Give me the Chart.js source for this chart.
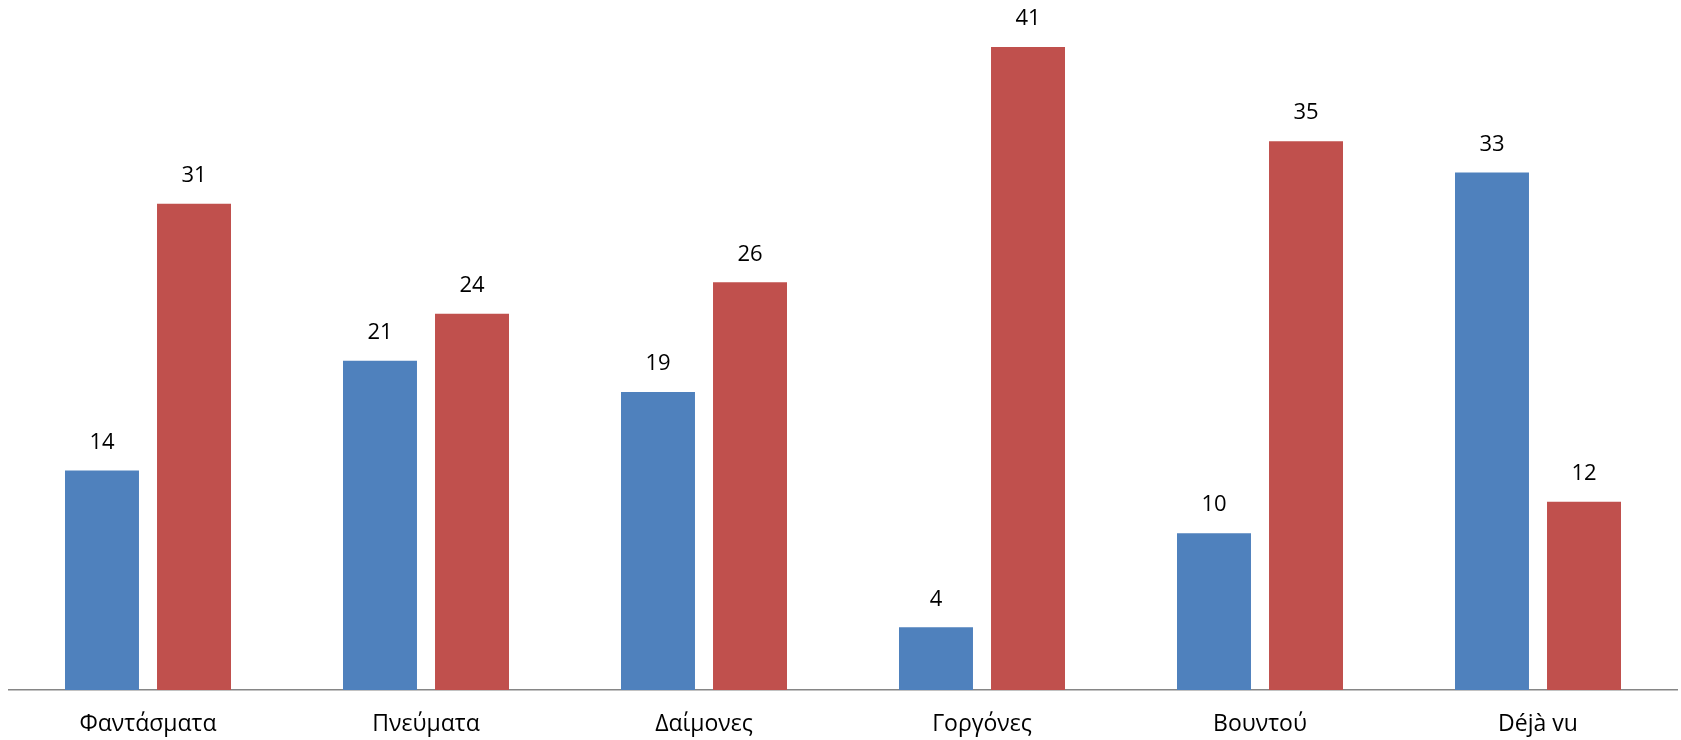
<!DOCTYPE html>
<html>
<head>
<meta charset="utf-8">
<script src="https://cdn.jsdelivr.net/npm/chart.js@4/dist/chart.umd.min.js"></script>
<style>
  html, body { margin: 0; padding: 0; background: #fff; }
  #wrap { width: 1681px; height: 740px; }
</style>
</head>
<body>
<div id="wrap"><canvas id="myChart" width="1681" height="740"></canvas></div>
<script>
var categories = ['Φαντάσματα', 'Πνεύματα', 'Δαίμονες', 'Γοργόνες', 'Βουντού', 'Déjà vu'];
var blueValues = [14, 21, 19, 4, 10, 33];
var redValues = [31, 24, 26, 41, 35, 12];

// draws the number above each bar
var barLabels = {
    id: 'barLabels',
    afterDatasetsDraw: function (chart) {
        var ctx = chart.ctx;
        ctx.save();
        ctx.font = '22px "Open Sans"';
        ctx.fillStyle = '#000';
        ctx.textAlign = 'center';
        ctx.textBaseline = 'middle';
        chart.data.datasets.forEach(function (ds, i) {
            chart.getDatasetMeta(i).data.forEach(function (bar, j) {
                ctx.fillText(ds.data[j], bar.x, bar.y - 28);
            });
        });
        ctx.restore();
    }
};

var ctx = document.getElementById('myChart').getContext('2d');
var myChart = new Chart(ctx, {
    type: 'bar',
    data: {
        labels: categories,
        datasets: [{
                data: blueValues,
                backgroundColor: '#4F81BD',
                barPercentage: 0.804,
                categoryPercentage: 0.662
            }, {
                data: redValues,
                backgroundColor: '#C0504D',
                barPercentage: 0.804,
                categoryPercentage: 0.662
            }]
    },
    options: {
        responsive: false,
        animation: false,
        layout: { padding: { left: 9, right: 4, top: 0, bottom: 0 } },
        plugins: {
            legend: { display: false },
            tooltip: { enabled: false }
        },
        scales: {
            x: {
                grid: { display: false, drawTicks: false },
                border: { display: true, color: '#868686', width: 1.5 },
                ticks: {
                    color: '#000',
                    padding: 21,
                    font: { family: '"Open Sans"', size: 23 }
                },
                afterFit: function (scale) { scale.height = 50; }
            },
            y: {
                display: false,
                min: 0,
                max: 44
            }
        }
    },
    plugins: [barLabels]
});
</script>
</body>
</html>
